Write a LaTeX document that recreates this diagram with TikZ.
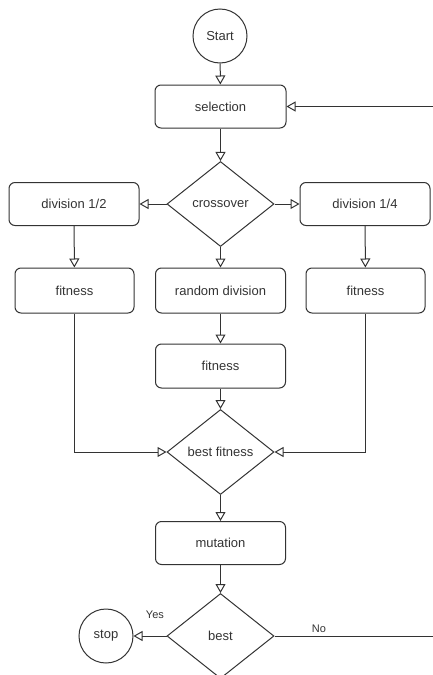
\documentclass[tikz,border=0pt]{standalone}
\usepackage{fontspec}
\setmainfont{Liberation Sans}
\usetikzlibrary{shapes.geometric,arrows.meta}
\definecolor{ink}{HTML}{333333}

\begin{document}
\begin{tikzpicture}[x=1pt,y=-1pt,line width=1pt,draw=ink,text=ink,
    font=\fontsize{13}{15}\selectfont,
    box/.style={draw=ink, rounded corners=6pt, minimum width=130pt, minimum height=43pt},
    choice/.style={draw=ink, diamond, minimum width=107pt, minimum height=85pt, inner sep=0pt},
    term/.style={draw=ink, circle, minimum size=54pt, inner sep=0pt},
    flow/.style={draw=ink, -{Triangle[open,length=9pt,width=10pt]}},
    tag/.style={font=\fontsize{11}{13}\selectfont}]
    % Moldura
    \clip (0,0) rectangle (433,675);

    % Nós
    \node[term] (start) at (220,36) {Start};
    \node[box, minimum width=131pt] (sel) at (220.5,106.5) {selection};
    \node[choice] (cross) at (220.5,204) {crossover};
    \node[box] (divA) at (74,204) {division 1/2};
    \node[box] (divB) at (365,204) {division 1/4};
    \node[box, minimum width=119pt, minimum height=45pt] (fitL) at (74.5,290.5) {fitness};
    \node[box, minimum height=45pt] (rand) at (220.5,290.5) {random division};
    \node[box, minimum width=119pt, minimum height=45pt] (fitR) at (365.5,290.5) {fitness};
    \node[box, minimum height=44pt] (fitM) at (220.5,366) {fitness};
    \node[choice] (bestfit) at (220.5,452) {best fitness};
    \node[box] (mut) at (220.5,543) {mutation};
    \node[choice] (best) at (220.5,636) {best};
    \node[term] (stop) at (106,636) {stop};

    % Pontas soltas (laço)
    \coordinate (loopin) at (433,106.5);
    \coordinate (loopout) at (433,636);

    % Ligações
    \draw[flow] (start) -- (sel);
    \draw[flow] (loopin) -- (sel);
    \draw[flow] (sel) -- (cross);
    \draw[flow] (cross) -- (divA);
    \draw[flow] (cross) -- (divB);
    \draw[flow] (divA) -- (fitL);
    \draw[flow] (cross) -- (rand);
    \draw[flow] (divB) -- (fitR);
    \draw[flow] (rand) -- (fitM);
    \draw[flow] (fitM) -- (bestfit);
    \draw[flow] (fitL.south) |- (bestfit.west);
    \draw[flow] (fitR.south) |- (bestfit.east);
    \draw[flow] (bestfit) -- (mut);
    \draw[flow] (mut) -- (best);
    \draw[flow] (best.west) -- node[tag, pos=0.35, above=14pt] {Yes} (stop);
    \draw (best.east) -- node[tag, pos=0.28, above] {No} (loopout);
\end{tikzpicture}
\end{document}
